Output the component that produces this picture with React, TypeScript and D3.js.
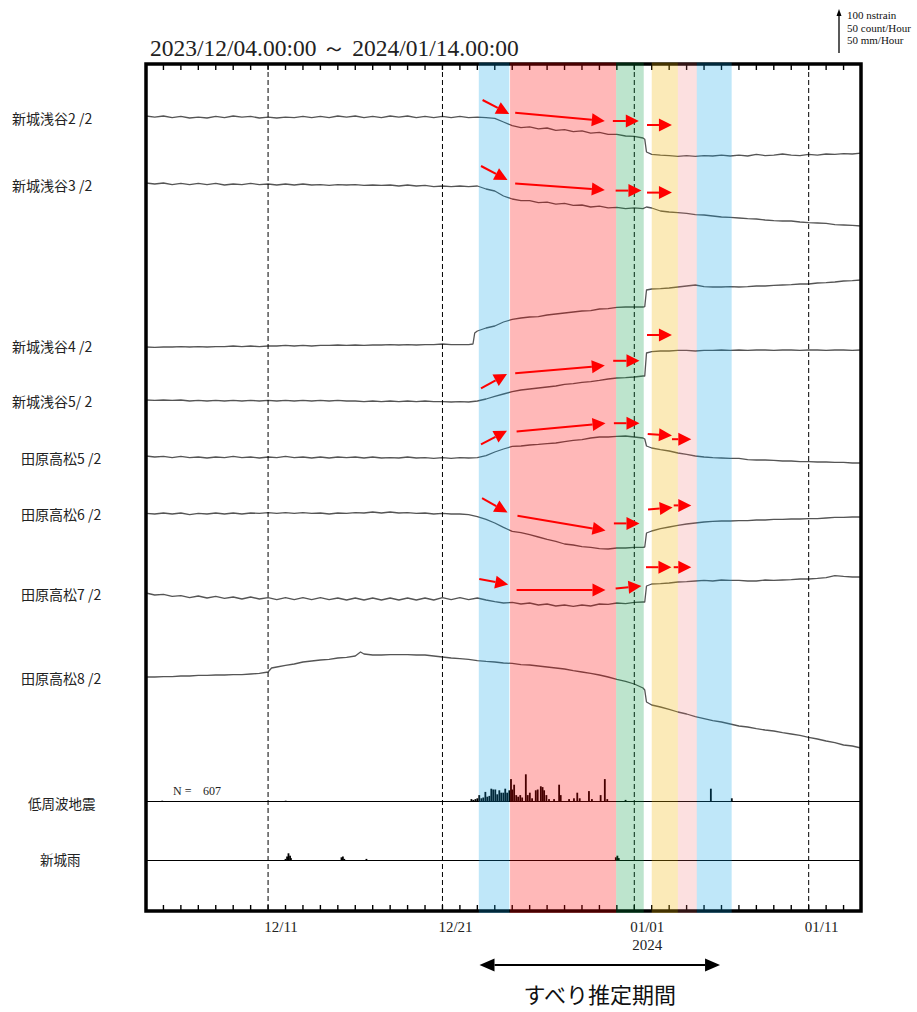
import React from 'react';
import * as d3 from 'd3';

type Pt = [number, number];

// ---------------- data ----------------
const TITLE = '2023/12/04.00:00 ～ 2024/01/14.00:00';
const PERIOD_START = '2023-12-04T00:00:00Z';
const PERIOD_END = '2024-01-14T00:00:00Z';

const rowLabels = [
  '新城浅谷2 /2', '新城浅谷3 /2', '新城浅谷4 /2', '新城浅谷5/ 2',
  '田原高松5 /2', '田原高松6 /2', '田原高松7 /2', '田原高松8 /2',
];

// strain series: [days since 2023/12/04 00:00, change in nstrain]
const asaya2: Pt[] = [[0,0],[0.5,-3],[1,0],[1.5,-4],[2,-1],[2.5,-5],[3,-3],[3.5,-5],[4,-1],[4.5,-4],[5,0],[5.5,-3],[6,-1],[6.5,-5],[7,-3],[7.5,-5],[8,-3],[8.5,-4],[9,-1],[9.5,-4],[10,-1],[10.5,-4],[11,0],[11.5,-3],[12,0],[12.5,-4],[13,-1],[13.5,-4],[14,0],[14.5,-3],[15,0],[15.5,-4],[16,-1],[16.5,-4],[17,-1],[17.5,-4],[18,-1],[18.5,-4],[19,-3],[19.5,-4],[20,-6],[20.5,-15],[21,-24],[21.5,-29],[22,-27],[22.5,-32],[23,-30],[23.5,-36],[24,-34],[24.5,-39],[25,-37],[25.5,-43],[26,-41],[26.5,-46],[27,-46],[27.5,-50],[28,-51],[28.5,-55],[28.6,-58],[28.7,-90],[29,-96],[29.5,-98],[30,-99],[30.5,-101],[31,-99],[31.5,-101],[32,-99],[32.5,-100],[33,-98],[33.5,-100],[34,-98],[34.5,-100],[35,-96],[35.5,-99],[36,-98],[36.5,-95],[37,-98],[37.5,-99],[38,-96],[38.5,-98],[39,-95],[39.5,-96],[40,-94],[40.5,-95],[41,-93]];
const asaya3: Pt[] = [[0,0],[0.5,-2.5],[1,0],[1.5,-4],[2,-1],[2.5,-4],[3,-1],[3.5,-4],[4,-1],[4.5,-5],[5,-2.5],[5.5,-4],[6,-1],[6.5,-4],[7,-2.5],[7.5,-5],[8,-2.5],[8.5,-5],[9,-2.5],[9.5,-5],[10,-4],[10.5,-6],[11,-4],[11.5,-5],[12,-4],[12.5,-6],[13,-5],[13.5,-6],[14,-5],[14.5,-7.5],[15,-5],[15.5,-7.5],[16,-6],[16.5,-9],[17,-7.5],[17.5,-9],[18,-7.5],[18.5,-9],[19,-7.5],[19.5,-15],[20,-20],[20.5,-32.5],[21,-40],[21.5,-44],[22,-44],[22.5,-49],[23,-48],[23.5,-53],[24,-51],[24.5,-56],[25,-55],[25.5,-60],[26,-58],[26.5,-62],[27,-61],[27.5,-64],[28,-62],[28.5,-64],[28.7,-60],[29,-62.5],[29.5,-70],[30,-72.5],[30.5,-74],[31,-76],[31.5,-79],[32,-80],[32.5,-82.5],[33,-85],[33.5,-86],[34,-87.5],[34.5,-89],[35,-90],[35.5,-92.5],[36,-94],[36.5,-95],[37,-95],[37.5,-97.5],[38,-99],[38.5,-100],[39,-101],[39.5,-104],[40,-105],[40.5,-106],[41,-107.5]];
const asaya4: Pt[] = [[0,0],[0.5,-1],[1,0],[1.5,0],[2,1],[2.5,0],[3,1],[3.5,0],[4,1],[4.5,1],[5,2.5],[5.5,1],[6,2.5],[6.5,1],[7,2.5],[7.5,2.5],[8,4],[8.5,2.5],[9,4],[9.5,2.5],[10,4],[10.5,4],[11,5],[11.5,4],[12,5],[12.5,4],[13,5],[13.5,5],[14,6],[14.5,5],[15,6],[15.5,5],[16,6],[16.5,6],[17,7.5],[17.5,6],[18,6],[18.5,6],[18.75,7.5],[18.85,35],[19,40],[19.5,47.5],[20,52.5],[20.5,62.5],[21,69],[21.5,72.5],[22,75],[22.5,76],[23,80],[23.5,82.5],[24,85],[24.5,87.5],[25,90],[25.5,91],[26,95],[26.5,96],[27,99],[27.5,100],[28,100],[28.5,100],[28.6,101],[28.7,142.5],[29,145],[29.5,146],[30,147.5],[30.5,150],[31,152.5],[31.5,155],[32,151],[32.5,150],[33,150],[33.5,151],[34,150],[34.5,151],[35,152.5],[35.5,152.5],[36,154],[36.5,155],[37,156],[37.5,157.5],[38,157.5],[38.5,160],[39,161],[39.5,162.5],[40,165],[40.5,166],[41,167.5]];
const asaya5: Pt[] = [[0,0],[0.5,-1],[1,0],[1.5,-1],[2,0],[2.5,-2.5],[3,-1],[3.5,-2.5],[4,-1],[4.5,-2.5],[5,-1],[5.5,-2.5],[6,-1],[6.5,-2.5],[7,-1],[7.5,-2.5],[8,-1],[8.5,-2.5],[9,-1],[9.5,-2.5],[10,-1],[10.5,-2.5],[11,-1],[11.5,-2.5],[12,-2.5],[12.5,-4],[13,-2.5],[13.5,-4],[14,-2.5],[14.5,-4],[15,-2.5],[15.5,-4],[16,-2.5],[16.5,-4],[17,-4],[17.5,-5],[18,-4],[18.5,-5],[19,-2.5],[19.5,2.5],[20,9],[20.5,15],[21,21],[21.5,25],[22,27.5],[22.5,30],[23,32.5],[23.5,35],[24,39],[24.5,41],[25,44],[25.5,46],[26,49],[26.5,52.5],[27,55],[27.5,56],[28,57.5],[28.5,60],[28.6,60],[28.7,117.5],[29,121],[29.5,122.5],[30,122.5],[30.5,124],[31,124],[31.5,122.5],[32,124],[32.5,124],[33,125],[33.5,124],[34,125],[34.5,124],[35,125],[35.5,125],[36,124],[36.5,125],[37,125],[37.5,124],[38,125],[38.5,125],[39,124],[39.5,125],[40,125],[40.5,124],[41,125]];
const takamatsu5: Pt[] = [[0,0],[0.5,-2.5],[1,-1],[1.5,-4],[2,-1],[2.5,-4],[3,-2.5],[3.5,-5],[4,-2.5],[4.5,-4],[5,-1],[5.5,-4],[6,-2.5],[6.5,-5],[7,-2.5],[7.5,-4],[8,-1],[8.5,-4],[9,-2.5],[9.5,-5],[10,-2.5],[10.5,-5],[11,-2.5],[11.5,-4],[12,-2.5],[12.5,-5],[13,-2.5],[13.5,-5],[14,-4],[14.5,-5],[15,-2.5],[15.5,-5],[16,-4],[16.5,-6],[17,-4],[17.5,-6],[18,-4],[18.5,-5],[19,-4],[19.5,1],[20,10],[20.5,17.5],[21,24],[21.5,25],[22,27.5],[22.5,29],[23,31],[23.5,32.5],[24,36],[24.5,39],[25,41],[25.5,45],[26,47.5],[26.5,47.5],[27,49],[27.5,50],[28,47.5],[28.5,45],[28.6,42.5],[28.7,25],[29,20],[29.5,16],[30,12.5],[30.5,7.5],[31,4],[31.5,0],[32,-2.5],[32.5,-4],[33,-5],[33.5,-6],[34,-6],[34.5,-9],[35,-10],[35.5,-10],[36,-11],[36.5,-12.5],[37,-12.5],[37.5,-14],[38,-14],[38.5,-15],[39,-15],[39.5,-16],[40,-16],[40.5,-17.5],[41,-17.5]];
const takamatsu6: Pt[] = [[0,-1],[0.5,-2.5],[1,0],[1.5,-2.5],[2,0],[2.5,-4],[3,-1],[3.5,-2.5],[4,0],[4.5,-2.5],[5,0],[5.5,-2.5],[6,0],[6.5,-1],[7,1],[7.5,-1],[8,1],[8.5,-1],[9,1],[9.5,-1],[10,0],[10.5,-2.5],[11,0],[11.5,-1],[12,1],[12.5,0],[13,2.5],[13.5,0],[14,2.5],[14.5,0],[15,1],[15.5,-1],[16,0],[16.5,-2.5],[17,-1],[17.5,-2.5],[18,-2.5],[18.5,-4],[19,-9],[19.5,-16],[20,-25],[20.5,-36],[21,-46],[21.5,-49],[22,-54],[22.5,-60],[23,-66],[23.5,-71],[24,-77.5],[24.5,-80],[25,-84],[25.5,-86],[26,-89],[26.5,-90],[27,-87.5],[27.5,-87.5],[28,-86],[28.5,-86],[28.6,-85],[28.7,-50],[29,-45],[29.5,-39],[30,-35],[30.5,-31],[31,-27.5],[31.5,-25],[32,-22.5],[32.5,-21],[33,-20],[33.5,-20],[34,-19],[34.5,-19],[35,-17.5],[35.5,-17.5],[36,-16],[36.5,-16],[37,-15],[37.5,-15],[38,-14],[38.5,-14],[39,-12.5],[39.5,-11],[40,-11],[40.5,-10],[41,-10]];
const takamatsu7: Pt[] = [[0,2.5],[0.5,-2.5],[1,-1],[1.5,-6],[2,-4],[2.5,-9],[3,-5],[3.5,-10],[4,-6],[4.5,-11],[5,-7.5],[5.5,-12.5],[6,-7.5],[6.5,-12.5],[7,-9],[7.5,-14],[8,-9],[8.5,-14],[9,-9],[9.5,-14],[10,-9],[10.5,-14],[11,-10],[11.5,-15],[12,-10],[12.5,-15],[13,-10],[13.5,-15],[14,-10],[14.5,-15],[15,-10],[15.5,-15],[16,-10],[16.5,-15],[17,-9],[17.5,-14],[18,-9],[18.5,-14],[19,-10],[19.5,-15],[20,-19],[20.5,-22.5],[21,-21],[21.5,-25],[22,-22.5],[22.5,-27.5],[23,-25],[23.5,-30],[24,-27.5],[24.5,-31],[25,-27.5],[25.5,-30],[26,-25],[26.5,-26],[27,-22.5],[27.5,-24],[28,-21],[28.5,-20],[28.6,-20],[28.7,20],[29,25],[29.5,26],[30,27.5],[30.5,30],[31,31],[31.5,32.5],[32,34],[32.5,32.5],[33,35],[33.5,34],[34,34],[34.5,32.5],[35,32.5],[35.5,35],[36,34],[36.5,35],[37,36],[37.5,37.5],[38,37.5],[38.5,39],[39,41],[39.5,46],[40,44],[40.5,42.5],[41,42.5]];
const takamatsu8: Pt[] = [[0,0],[0.5,0],[1,1],[1.5,1],[2,2.5],[2.5,2.5],[3,4],[3.5,4],[4,5],[4.5,5],[5,6],[5.5,6],[6,7.5],[6.5,9],[7,12.5],[7.2,22.5],[7.5,25],[8,29],[8.5,32.5],[9,37.5],[9.5,40],[10,42.5],[10.5,44],[11,47.5],[11.5,49],[12,52.5],[12.3,62.5],[12.5,57.5],[13,55],[13.5,55],[14,56],[14.5,56],[15,56],[15.5,55],[16,55],[16.5,52.5],[17,50],[17.5,47.5],[18,46],[18.5,44],[19,41],[19.5,39],[20,37.5],[20.5,35],[21,34],[21.5,31],[22,30],[22.5,27.5],[23,25],[23.5,22.5],[24,20],[24.5,16],[25,12.5],[25.5,9],[26,5],[26.5,0],[27,-6],[27.5,-11],[28,-17.5],[28.5,-27.5],[28.6,-32.5],[28.7,-62.5],[29,-70],[29.5,-75],[30,-81],[30.5,-87.5],[31,-92.5],[31.5,-99],[32,-104],[32.5,-109],[33,-112.5],[33.5,-117.5],[34,-122.5],[34.5,-125],[35,-129],[35.5,-132.5],[36,-135],[36.5,-139],[37,-142.5],[37.5,-146],[38,-151],[38.5,-155],[39,-160],[39.5,-164],[40,-170],[40.5,-172.5],[41,-177.5]];
const strainSeries = [asaya2, asaya3, asaya4, asaya5, takamatsu5, takamatsu6, takamatsu7, takamatsu8];

// low-frequency earthquakes: [days, count/hour]
const quakeHourly: Pt[] = [[0.93,1],[8.01,1],[18.66,3],[18.77,2],[18.89,3],[19.0,4],[19.11,8],[19.23,4],[19.34,5],[19.46,12],[19.57,6],[19.69,7],[19.8,16],[19.91,15],[20.03,15],[20.14,9],[20.26,14],[20.37,11],[20.49,11],[20.6,16],[20.71,11],[20.83,14],[20.93,28],[21.0,15],[21.11,21],[21.23,8],[21.34,6],[21.46,8],[21.57,5],[21.78,34],[21.89,8],[22.01,11],[22.14,4],[22.35,14],[22.46,15],[22.64,19],[22.74,18],[22.83,14],[22.96,8],[23.11,3],[23.4,3],[23.69,21],[23.78,8],[24.26,3],[24.54,4],[24.73,11],[24.87,4],[25.4,13],[25.57,3],[26.07,8],[26.31,28],[26.45,3],[27.5,2],[32.39,16],[33.59,4]];
const quakeTotal = 607;
// Shinshiro rain: [days, mm/hour]
const rainHourly: Pt[] = [[8.0,2],[8.09,5],[8.17,9],[8.26,6],[8.31,3],[11.21,4],[11.29,5],[11.37,2],[12.64,2],[26.94,4],[27.03,6],[27.11,3]];

const gridDates = ['2023-12-11T00:00Z', '2023-12-21T00:00Z', '2024-01-01T00:00Z', '2024-01-11T00:00Z'];
const tickLabels = ['12/11', '12/21', '01/01', '01/11'];
const yearLabel = '2024';

const slipPhases: [string, string][] = [
  ['2023-12-23T02:00Z', '2023-12-24T20:00Z'],
  ['2023-12-24T21:00Z', '2023-12-30T23:00Z'],
  ['2023-12-30T23:00Z', '2024-01-01T13:00Z'],
  ['2024-01-02T00:00Z', '2024-01-03T12:00Z'],
  ['2024-01-03T12:00Z', '2024-01-04T14:00Z'],
  ['2024-01-04T14:00Z', '2024-01-06T14:00Z'],
];
const slipWindow: [string, string] = ['2023-12-23T03:00Z', '2024-01-05T22:00Z'];
const slipWindowLabel = 'すべり推定期間';
const legendLines = ['100 nstrain', '50 count/Hour', '50 mm/Hour'];

// annotation arrows: [row, fromDay, fromNstrain, toDay, toNstrain]
const arrows: [number, number, number, number, number][] = [
  [0, 19.3, 40, 20.83, 5], [0, 21.17, 8, 26.31, -12.5], [0, 26.77, -12.5, 28.26, -12.5], [0, 28.73, -22.5, 30.16, -22.5],
  [1, 19.21, 42.5, 20.73, 7.5], [1, 21.17, -1, 26.31, -17.5], [1, 26.93, -19, 28.41, -19], [1, 28.73, -24, 30.16, -24],
  [2, 28.73, 30, 30.16, 30],
  [3, 19.21, 29, 20.7, 65], [3, 21.17, 67, 26.31, 86], [3, 26.79, 98, 28.3, 98],
  [4, 19.21, 29, 20.7, 63], [4, 21.25, 61, 26.35, 82], [4, 26.83, 82, 28.3, 82], [4, 28.77, 55, 30.16, 51], [4, 30.16, 42, 31.27, 42],
  [5, 19.27, 37, 20.73, 1], [5, 21.3, -7, 26.35, -44], [5, 26.83, -26, 28.3, -26], [5, 28.79, 9, 30.2, 14], [5, 30.26, 19, 31.27, 19],
  [6, 19.11, 37.5, 20.77, 24], [6, 21.25, 10, 26.35, 10], [6, 26.93, 14, 28.41, 20], [6, 28.67, 67, 30.13, 67], [6, 30.26, 67, 31.27, 67],
];

// ---------------- layout & style ----------------
const W = 917, H = 1012;
const FR = { l: 146, r: 861, t: 64, b: 911 };
const rowBase = [116, 183, 347, 400, 456, 513, 594, 677];
const labelX = [12, 12, 12, 12, 21, 21, 21, 21];
const labelY = [118, 185, 346, 401, 458, 514, 594, 678];
const quakeBase = 801.5;
const rainBase = 860.5;
const bandColors = ['rgba(0,160,230,0.25)', 'rgba(255,0,0,0.28)', 'rgba(0,150,60,0.26)', 'rgba(240,180,0,0.28)', 'rgba(240,100,100,0.2)', 'rgba(0,160,230,0.25)'];
const SERIF = "'Liberation Serif', 'Times New Roman', serif";
const SANS = "'Noto Sans CJK JP', 'Noto Sans', sans-serif";

function arrowParts(x1: number, y1: number, x2: number, y2: number, len: number, half: number) {
  const dx = x2 - x1, dy = y2 - y1;
  const L = Math.hypot(dx, dy) || 1;
  const ux = dx / L, uy = dy / L;
  const bx = x2 - ux * len, by = y2 - uy * len;
  const head = `${x2},${y2} ${bx - uy * half},${by + ux * half} ${bx + uy * half},${by - ux * half}`;
  return { bx, by, head };
}

export default function App() {
  const t0 = new Date(PERIOD_START);
  const t1 = new Date(PERIOD_END);
  const x = d3.scaleUtc().domain([t0, t1]).range([FR.l, FR.r]);
  const dayX = (d: number) => x(new Date(t0.getTime() + d * 864e5));
  const strainPx = d3.scaleLinear().domain([0, 100]).range([0, 40]);
  const countPx = d3.scaleLinear().domain([0, 50]).range([0, 40]);

  const lines = strainSeries.map((s, i) =>
    d3.line<Pt>().x(p => dayX(p[0])).y(p => rowBase[i] - strainPx(p[1]))(s) || ''
  );
  const days = d3.utcDay.range(t0, t1).slice(1);
  const gx = gridDates.map(d => x(new Date(d)));

  return (
    <svg width={W} height={H} style={{ position: 'absolute', left: 0, top: 0, background: '#fff' }}>
      <rect x={0} y={0} width={W} height={H} fill="#fff" />
      {/* title */}
      <text x={150} y={56} fontFamily={SERIF} fontSize={23.5} fill="#222">{TITLE}</text>
      {/* legend */}
      <line x1={839} y1={53} x2={839} y2={14} stroke="#000" strokeWidth={1.3} />
      <polygon points="839,9 836.5,16 841.5,16" fill="#000" />
      {legendLines.map((t, i) => (
        <text key={t} x={847} y={19 + i * 12.5} fontFamily={SERIF} fontSize={11} fill="#111">{t}</text>
      ))}
      {/* strain traces */}
      {lines.map((d, i) => (
        <path key={i} d={d} fill="none" stroke="#555" strokeWidth={1.3} strokeLinejoin="round" />
      ))}
      {/* row labels */}
      {rowLabels.map((t, i) => (
        <text key={t} x={labelX[i]} y={labelY[i]} dominantBaseline="central" fontFamily={SANS} fontSize={14} fill="#222">{t}</text>
      ))}
      <text x={28} y={803} dominantBaseline="central" fontFamily={SANS} fontSize={13.5} fill="#222">低周波地震</text>
      <text x={40} y={859} dominantBaseline="central" fontFamily={SANS} fontSize={13.5} fill="#222">新城雨</text>
      {/* quake & rain rows */}
      <line x1={FR.l} x2={FR.r} y1={quakeBase} y2={quakeBase} stroke="#000" strokeWidth={1} />
      <line x1={FR.l} x2={FR.r} y1={rainBase} y2={rainBase} stroke="#000" strokeWidth={1} />
      {quakeHourly.map((q, i) => (
        <rect key={i} x={dayX(q[0]) - 0.9} y={quakeBase - countPx(q[1])} width={1.8} height={countPx(q[1])} fill="#000" />
      ))}
      {rainHourly.map((q, i) => (
        <rect key={i} x={dayX(q[0]) - 0.9} y={rainBase - countPx(q[1])} width={1.8} height={countPx(q[1])} fill="#000" />
      ))}
      <text x={173} y={795} fontFamily={SERIF} fontSize={12} fill="#222">N =</text>
      <text x={203} y={795} fontFamily={SERIF} fontSize={12} fill="#222">{quakeTotal}</text>
      {/* dashed grid */}
      {gx.map((v, i) => (
        <line key={i} x1={v} x2={v} y1={FR.t} y2={FR.b} stroke="#000" strokeWidth={1} strokeDasharray="5,3" />
      ))}
      {/* frame & ticks */}
      {days.map((d, i) => (
        <g key={i}>
          <line x1={x(d)} x2={x(d)} y1={FR.t} y2={FR.t + 6} stroke="#000" strokeWidth={1.4} />
          <line x1={x(d)} x2={x(d)} y1={FR.b} y2={FR.b - 6} stroke="#000" strokeWidth={1.4} />
        </g>
      ))}
      <rect x={FR.l} y={FR.t} width={FR.r - FR.l} height={FR.b - FR.t} fill="none" stroke="#000" strokeWidth={3.5} />
      {/* slip phase bands */}
      {slipPhases.map((p, i) => (
        <rect key={i} x={x(new Date(p[0]))} y={FR.t - 1.5} width={x(new Date(p[1])) - x(new Date(p[0]))}
          height={FR.b - FR.t + 3.5} fill={bandColors[i]} />
      ))}
      {/* red arrows */}
      {arrows.map((a, i) => {
        const x1 = dayX(a[1]), y1 = rowBase[a[0]] - strainPx(a[2]);
        const x2 = dayX(a[3]), y2 = rowBase[a[0]] - strainPx(a[4]);
        const p = arrowParts(x1, y1, x2, y2, 13, 6.5);
        return (
          <g key={i}>
            <line x1={x1} y1={y1} x2={p.bx} y2={p.by} stroke="#f00" strokeWidth={2} />
            <polygon points={p.head} fill="#f00" />
          </g>
        );
      })}
      {/* x tick labels */}
      {tickLabels.map((t, i) => (
        <text key={t} x={gx[i] + 13} y={932} textAnchor="middle" fontFamily={SERIF} fontSize={15} fill="#222">{t}</text>
      ))}
      <text x={gx[2] + 13} y={950} textAnchor="middle" fontFamily={SERIF} fontSize={15} fill="#222">{yearLabel}</text>
      {/* slip window double arrow */}
      {(() => {
        const xa = x(new Date(slipWindow[0])), xb = x(new Date(slipWindow[1]));
        const y = 965;
        const r = arrowParts(xa, y, xb, y, 15, 6.5);
        const l = arrowParts(xb, y, xa, y, 15, 6.5);
        return (
          <g>
            <line x1={l.bx} y1={y} x2={r.bx} y2={y} stroke="#000" strokeWidth={2} />
            <polygon points={r.head} fill="#000" />
            <polygon points={l.head} fill="#000" />
            <text x={(xa + xb) / 2} y={1003} textAnchor="middle" fontFamily={SANS} fontSize={22} fill="#111">{slipWindowLabel}</text>
          </g>
        );
      })()}
    </svg>
  );
}
